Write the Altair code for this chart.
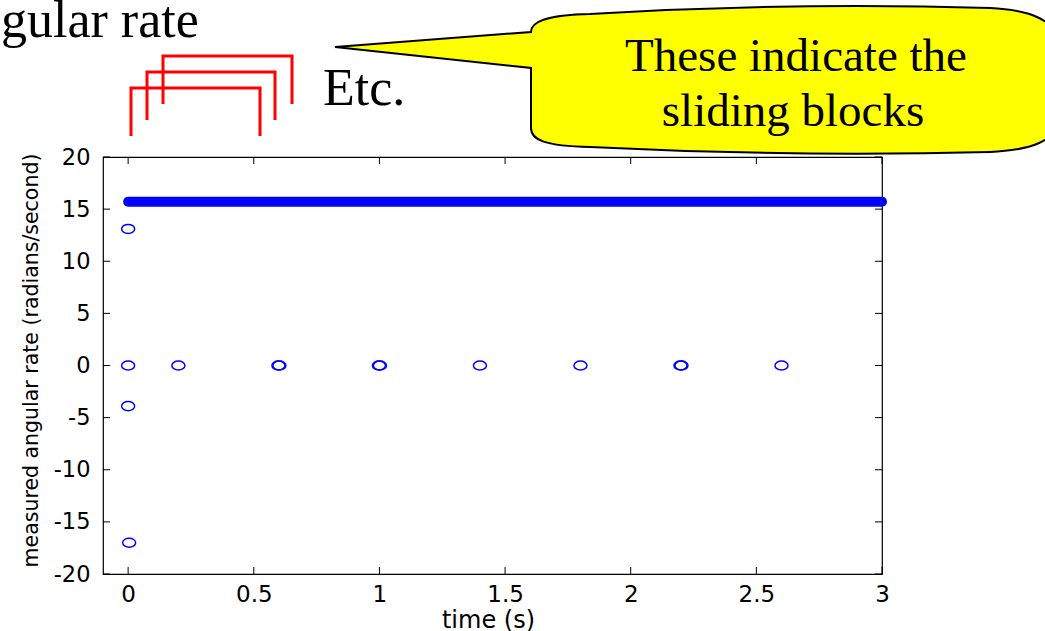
import altair as alt
import pandas as pd

# Individual rate samples drawn as open circles
circle_time = [0.0, 0.0, 0.0, 0.004, 0.2, 0.598, 0.602, 0.998, 1.002, 1.4, 1.8, 2.198, 2.202, 2.6]
circle_rate = [13.1, 0.0, -3.9, -17.0, 0.0, 0.0, 0.0, 0.0, 0.0, 0.0, 0.0, 0.0, 0.0, 0.0]

# Dense steady-rate trace (drawn as one thick stroke)
steady_time = [0.0, 3.0]
steady_rate = [15.71, 15.71]

x_ticks = [0, 0.5, 1, 1.5, 2, 2.5, 3]
y_ticks = [-20, -15, -10, -5, 0, 5, 10, 15, 20]

W, H = 779, 417          # plot area
LEFT, TOP = 103, 157     # plot origin inside the page
TICK = 7                 # inward tick length

x_scale = alt.Scale(domain=[-0.1, 3.0], nice=False, zero=False)
y_scale = alt.Scale(domain=[-20, 20], nice=False, zero=False)

x_axis = alt.Axis(
    values=x_ticks, labelExpr="'' + datum.value", ticks=False, tickSize=0,
    domain=False, grid=False, labelFlush=False, labelOverlap=False,
    labelFont="DejaVu Sans", labelFontSize=23, labelColor="black", labelPadding=9,
    title="time (s)", titleFont="DejaVu Sans", titleFontSize=24, titleFontWeight="normal",
    titleColor="black", titleX=385, titleY=53, titleAlign="center", titleBaseline="alphabetic",
)
y_axis = alt.Axis(
    values=y_ticks, labelExpr="'' + datum.value", ticks=False, tickSize=0,
    domain=False, grid=False, labelFlush=False, labelOverlap=False,
    labelFont="DejaVu Sans", labelFontSize=22.5, labelColor="black", labelPadding=13,
    title="measured angular rate (radians/second)", titleFont="DejaVu Sans",
    titleFontSize=20.5, titleFontWeight="normal", titleColor="black",
    titleX=-66, titleY=203, titleAngle=-90, titleAlign="center", titleBaseline="alphabetic",
)

X = alt.X("time:Q", scale=x_scale, axis=x_axis)
Y = alt.Y("rate:Q", scale=y_scale, axis=y_axis)

samples = pd.DataFrame({"time": circle_time, "rate": circle_rate})
steady = pd.DataFrame({"time": steady_time, "rate": steady_rate})
xt = pd.DataFrame({"time": x_ticks})
yt = pd.DataFrame({"rate": y_ticks})
one = pd.DataFrame({"k": [0]})

steady_layer = alt.Chart(steady).mark_line(
    color="#0000FF", strokeWidth=10, strokeCap="round"
).encode(x=X, y=Y)

ellipse = "M-1,0A1,0.7,0,1,0,1,0A1,0.7,0,1,0,-1,0Z"
sample_layer = alt.Chart(samples).mark_point(
    shape=ellipse, size=169, filled=False, color="#0000FF", strokeWidth=1.5, opacity=1
).encode(x=X, y=Y)

# MATLAB-style inward ticks on all four sides
tick_style = dict(color="black", strokeWidth=1)
ticks_bottom = alt.Chart(xt).mark_rule(**tick_style).encode(
    x=X, y=alt.value(H), y2=alt.value(H - TICK))
ticks_top = alt.Chart(xt).mark_rule(**tick_style).encode(
    x=X, y=alt.value(0), y2=alt.value(TICK))
ticks_left = alt.Chart(yt).mark_rule(**tick_style).encode(
    y=Y, x=alt.value(0), x2=alt.value(TICK))
ticks_right = alt.Chart(yt).mark_rule(**tick_style).encode(
    y=Y, x=alt.value(W), x2=alt.value(W - TICK))

# Annotations above the axes, drawn in page pixels from the page origin
origin = dict(x=alt.value(-LEFT), y=alt.value(-TOP))

brackets = (
    "M131,136L131,88L260,88L260,136"
    "M147,120L147,72L275,72L275,120"
    "M163,104L163,56L292,56L292,104"
)
bracket_layer = alt.Chart(one).mark_point(
    shape=brackets, size=4, filled=False, stroke="#FF0000", strokeWidth=3,
    strokeJoin="miter", opacity=1
).encode(**origin)

callout = (
    "M335,47L531,32C531,22,545,15,590,14Q790,2,990,8C1035,10,1052,22,1062,40"
    "L1062,122C1052,140,1035,150,990,152Q790,157,590,147C545,146,531,140,531,128"
    "L531,68Z"
)
callout_layer = alt.Chart(one).mark_point(
    shape=callout, size=4, filled=True, fill="#FFFF00", stroke="black",
    strokeWidth=2, opacity=1
).encode(**origin)


def label(text, cx, by, size, align="left"):
    return alt.Chart(one).mark_text(
        text=text, font="Liberation Serif", fontSize=size, color="black",
        align=align, baseline="alphabetic"
    ).encode(x=alt.value(cx - LEFT), y=alt.value(by - TOP))


heading = label("gular rate", 1, 37, 52)
etc = label("Etc.", 323, 105, 52)
bubble1 = label("These indicate the", 796, 71, 47, "center")
bubble2 = label("sliding blocks", 793, 126, 47, "center")

chart = alt.layer(
    steady_layer, sample_layer,
    ticks_bottom, ticks_top, ticks_left, ticks_right,
    bracket_layer, callout_layer, heading, etc, bubble1, bubble2,
).properties(
    width=W, height=H,
    autosize=alt.AutoSizeParams(type="none"),
    padding={"left": LEFT, "top": TOP, "right": 1045 - LEFT - W, "bottom": 631 - TOP - H},
    background="white",
).configure_view(stroke="black", strokeWidth=1.2)

chart.save("out.html", embed_options={"renderer": "svg", "actions": False})
